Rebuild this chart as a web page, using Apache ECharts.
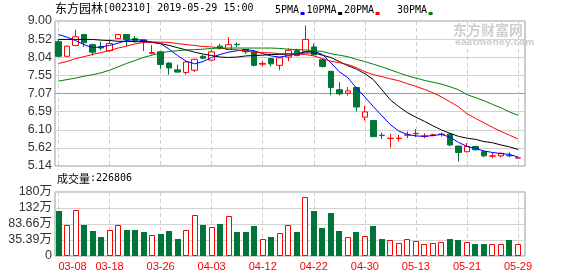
<!DOCTYPE html>
<html><head><meta charset="utf-8">
<script src="https://cdn.jsdelivr.net/npm/echarts@6/dist/echarts.min.js"></script>
<style>html,body{margin:0;padding:0;background:#fff}#c{width:578px;height:276px}</style>
</head><body><div id="c"></div>
<script>
const dates = ['03-08','03-11','03-12','03-13','03-14','03-15','03-18','03-19','03-20','03-21','03-22','03-25','03-26','03-27','03-28','03-29','04-01','04-02','04-03','04-04','04-08','04-09','04-10','04-11','04-12','04-15','04-16','04-17','04-18','04-19','04-22','04-23','04-24','04-25','04-26','04-29','04-30','05-06','05-07','05-08','05-09','05-10','05-13','05-14','05-15','05-16','05-17','05-20','05-21','05-22','05-23','05-24','05-27','05-28','05-29'];
// [open, close, low, high]
const candles = [
[8.45,8.06,8.04,8.51],[8.06,8.33,8.05,8.35],[8.35,8.58,8.33,8.77],[8.64,8.42,8.31,8.65],[8.37,8.17,8.08,8.40],
[8.32,8.28,8.22,8.45],[8.21,8.40,8.19,8.51],[8.53,8.64,8.52,8.65],[8.64,8.51,8.33,8.65],[8.53,8.48,8.42,8.60],
[8.50,8.46,8.20,8.52],[8.14,8.16,8.11,8.36],[8.18,7.84,7.72,8.20],[7.88,7.75,7.57,7.90],[7.70,7.64,7.62,7.84],
[7.63,7.91,7.57,7.93],[7.69,7.98,7.64,8.00],[8.06,8.01,7.98,8.10],[7.96,8.18,7.93,8.23],[8.33,8.27,8.24,8.39],
[8.24,8.37,8.22,8.57],[8.38,8.37,8.31,8.43],[8.24,8.18,8.12,8.26],[8.18,7.82,7.79,8.20],[7.85,7.87,7.79,7.94],
[8.00,7.86,7.79,8.02],[7.82,8.02,7.69,8.04],[8.04,8.22,7.93,8.27],[8.21,8.08,8.06,8.26],[8.19,8.51,8.18,8.88],
[8.31,8.10,8.08,8.40],[7.97,7.79,7.76,8.00],[7.66,7.23,7.02,7.68],[7.17,7.06,7.02,7.37],[7.08,7.14,7.02,7.24],
[7.23,6.71,6.59,7.25],[6.44,6.58,6.35,6.74],[6.35,5.92,5.92,6.35],[5.96,5.95,5.86,6.03],[5.87,5.88,5.63,5.99],
[5.87,5.88,5.79,5.97],[5.96,5.97,5.88,6.06],[6.00,6.01,5.91,6.12],[5.93,5.94,5.88,6.01],[5.96,5.97,5.93,6.00],
[5.98,5.99,5.92,6.03],[5.99,5.70,5.67,6.01],[5.67,5.50,5.26,5.68],[5.52,5.66,5.50,5.75],[5.66,5.57,5.55,5.68],
[5.52,5.41,5.37,5.55],[5.40,5.41,5.35,5.50],[5.41,5.48,5.37,5.49],[5.42,5.41,5.37,5.50],[5.35,5.36,5.34,5.37]
];
const ma5 = [8.64,8.57,8.48,8.37,8.29,8.31,8.35,8.41,8.48,8.51,8.48,8.44,8.40,8.25,8.08,7.93,7.86,7.92,8.03,8.11,8.17,8.21,8.24,8.21,8.13,8.07,8.04,8.08,8.12,8.18,8.20,8.11,7.89,7.65,7.49,7.22,6.98,6.72,6.48,6.24,6.07,5.98,5.94,5.93,5.95,5.98,5.91,5.77,5.66,5.61,5.54,5.50,5.47,5.45,5.38];
const ma10 = [8.51,8.51,8.51,8.51,8.51,8.49,8.48,8.46,8.46,8.45,8.45,8.43,8.40,8.35,8.29,8.23,8.17,8.12,8.08,8.04,8.03,8.04,8.07,8.08,8.09,8.11,8.11,8.12,8.13,8.15,8.15,8.09,8.03,7.92,7.81,7.72,7.60,7.44,7.17,6.90,6.72,6.56,6.44,6.33,6.21,6.10,6.01,5.93,5.88,5.85,5.79,5.76,5.70,5.65,5.58];
const ma20 = [7.87,7.92,8.00,8.05,8.11,8.16,8.21,8.28,8.33,8.39,8.43,8.44,8.44,8.43,8.40,8.37,8.35,8.32,8.31,8.28,8.25,8.23,8.20,8.17,8.16,8.15,8.13,8.13,8.12,8.11,8.07,8.00,7.93,7.89,7.84,7.76,7.65,7.57,7.52,7.46,7.41,7.33,7.26,7.18,7.09,6.98,6.85,6.72,6.53,6.41,6.29,6.17,6.06,5.96,5.86];
const ma30 = [7.40,7.44,7.48,7.53,7.57,7.62,7.69,7.78,7.87,7.95,8.03,8.09,8.15,8.19,8.21,8.23,8.24,8.25,8.27,8.28,8.28,8.28,8.28,8.28,8.28,8.28,8.27,8.25,8.24,8.23,8.21,8.19,8.13,8.09,8.05,7.98,7.92,7.85,7.78,7.70,7.62,7.54,7.48,7.42,7.37,7.32,7.25,7.17,7.04,6.96,6.88,6.78,6.69,6.58,6.49];
// volume, 万手
const volumes = [122.1,80.1,127.2,80.1,62.1,44.1,64.2,79.2,65.1,65.1,59.1,49.2,53.1,62.1,38.1,64.2,109.2,80.1,73.2,83.1,106.2,59.1,59.1,77.1,37.2,44.1,55.2,79.2,59.1,166.2,122.1,71.1,116.1,62.1,43.2,59.1,46.2,77.1,38.1,34.2,26.1,37.2,32.1,22.2,26.1,29.1,38.1,35.1,29.1,23.1,23.1,22.2,22.2,35.1,22.68];
const priceTicks = ['5.14','5.62','6.10','6.59','7.07','7.55','8.04','8.52','9.00'];
const volTicks = ['0','35.39万','83.66万','132万','180万'];
const volAxisMin = -12.88, volAxisMax = 180;
const titleName = '东方园林', titleRest = '[002310] 2019-05-29 15:00';
const maNames = ['5PMA','10PMA','20PMA','30PMA'];
const lastVolume = '226806';

const RED = '#ff0000', GREEN = '#00753a';
const MA_COLORS = ['#0000ff','#000000','#ff0000','#008000'];
const MONO = '"DejaVu Sans Mono", monospace';
const LAB = '"Liberation Sans", "Noto Sans CJK SC", sans-serif';

const chart = echarts.init(document.getElementById('c'), null, {renderer:'canvas'});
const mainLineColors = priceTicks.map((t,i)=> i === 4 ? '#999999' : '#d2d2d2');

const legendX = [275, 306.5, 344, 397];
const graphics = [];
maNames.forEach((n,i)=>{
  graphics.push({type:'text', left: legendX[i], top: 5, style:{text:n, font:'normal 10px ' + MONO, fill:'#000'}});
  graphics.push({type:'rect', left: legendX[i] + n.length*6.02 + 1.5, top: 12, shape:{width:4, height:3}, style:{fill: MA_COLORS[i]}});
});
graphics.push({type:'text', left: 453, top: 23, style:{text:'东方财富网', font:'bold 14px "Noto Sans CJK SC"', fill:'#cfcfcf'}});
graphics.push({type:'text', left: 455, top: 38, style:{text:'eastmoney.com', font:'bold 9px "DejaVu Sans"', fill:'#cfcfcf'}});
graphics.push({type:'text', left: 57, top: 173, style:{rich:{a:{fontFamily:'"Noto Sans CJK SC"', fontSize:11, fontWeight:'normal', fill:'#000'}, b:{fontFamily:MONO, fontSize:10, fontWeight:'normal', fill:'#000'}}, text:'{a|成交量}{b|:' + lastVolume + '}'}});

const option = {
  animation: false,
  backgroundColor: '#fff',
  title: {
    left: 55, top: 2, padding: 0,
    text: '{a|' + titleName + '}{b|' + titleRest + '}',
    textStyle: {fontWeight:'normal', rich: {
      a: {fontFamily:'"Noto Sans CJK SC"', fontSize:12, fontWeight:'normal', color:'#000'},
      b: {fontFamily: MONO, fontSize:10, fontWeight:'normal', color:'#000'}
    }}
  },
  graphic: graphics,
  grid: [
    {left:55, right:53, top:21, height:145, show:true, borderColor:'#999', borderWidth:1, backgroundColor:'transparent'},
    {left:58.5, width:459.5, top:21, height:145},
    {left:55, right:53, top:192, height:64, show:true, borderColor:'#999', borderWidth:1, backgroundColor:'transparent'},
    {left:58.5, width:459.5, top:192, height:64}
  ],
  xAxis: [
    {gridIndex:0, type:'value', min:0, max:1, show:false},
    {gridIndex:1, type:'category', data:dates, boundaryGap:false,
      axisLine:{show:false}, axisTick:{show:false}, axisLabel:{show:false},
      splitLine:{show:true, interval:5, lineStyle:{color:'#cfcfcf', type:[4,3], width:1}}},
    {gridIndex:2, type:'value', min:0, max:1, show:false},
    {gridIndex:3, type:'category', data:dates, boundaryGap:false,
      axisLine:{show:false}, axisTick:{show:false},
      axisLabel:{show:true, interval:5, color:RED, fontFamily:'"Liberation Sans", sans-serif', fontSize:11, margin:5, alignMinLabel:'left'},
      splitLine:{show:true, interval:5, lineStyle:{color:'#cfcfcf', type:[4,3], width:1}}}
  ],
  yAxis: [
    {gridIndex:0, type:'value', min:0, max:priceTicks.length-1, interval:1,
      axisLine:{show:false}, axisTick:{show:false},
      axisLabel:{formatter:(v)=>priceTicks[v], fontFamily:LAB, fontSize:12.5, color:'#333', margin:3},
      splitLine:{show:true, lineStyle:{color:mainLineColors, width:1}}},
    {gridIndex:1, type:'value', min:parseFloat(priceTicks[0]), max:parseFloat(priceTicks[priceTicks.length-1]), show:false, splitLine:{show:false}},
    {gridIndex:2, type:'value', min:0, max:volTicks.length-1, interval:1,
      axisLine:{show:false}, axisTick:{show:false},
      axisLabel:{formatter:(v)=>volTicks[v], fontFamily:LAB, fontSize:12.5, color:'#333', margin:3},
      splitLine:{show:true, lineStyle:{color:'#d2d2d2', width:1}}},
    {gridIndex:3, type:'value', min:volAxisMin, max:volAxisMax, show:false, splitLine:{show:false}}
  ],
  series: [
    {type:'candlestick', name:'K', xAxisIndex:1, yAxisIndex:1, data:candles, barWidth:6, clip:false,
      itemStyle:{color:'#ffffff', color0:GREEN, borderColor:RED, borderColor0:GREEN, borderColorDoji:RED, borderWidth:1}},
    ...maNames.map((n,i)=>({type:'line', name:n, xAxisIndex:1, yAxisIndex:1, data:[ma5,ma10,ma20,ma30][i],
      showSymbol:false, symbol:'none', clip:false, lineStyle:{color:MA_COLORS[i], width:1}, itemStyle:{color:MA_COLORS[i]}})),
    {type:'custom', name:'VOL', xAxisIndex:3, yAxisIndex:3, clip:false,
      data: volumes.map((v,i)=>[dates[i], v, candles[i][1] >= candles[i][0] ? 1 : 0]),
      encode:{x:0, y:1},
      renderItem:(params, api)=>{
        const top = api.coord([api.value(0), api.value(1)]);
        const base = params.coordSys.y + params.coordSys.height;
        const cx = Math.round(top[0]);
        const ty = Math.round(top[1]);
        if (api.value(2) === 1) {
          return {type:'rect', shape:{x:cx-3+0.5, y:ty+0.5, width:5, height:base-ty-1}, style:{fill:'#fff', stroke:RED, lineWidth:1}};
        }
        return {type:'rect', shape:{x:cx-3, y:ty, width:6, height:base-ty}, style:{fill:GREEN}};
      }}
  ]
};
chart.setOption(option);
</script></body></html>
